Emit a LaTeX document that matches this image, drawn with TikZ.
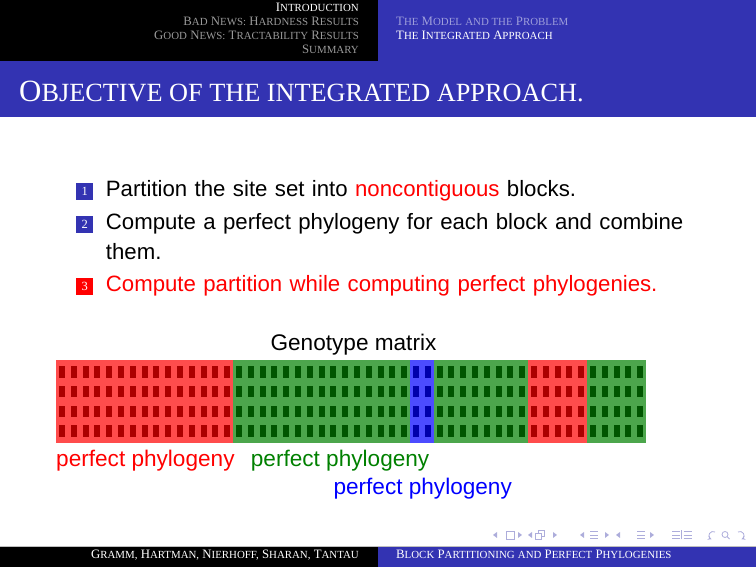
\documentclass[tikz,border=0pt]{standalone}
\usepackage{fontspec}
\setmainfont{Liberation Sans}
\newfontfamily\capfont{Liberation Serif}
\newfontfamily\smcfont[Scale=0.85]{Liberation Serif}
\usepackage{tikz}
\usetikzlibrary{arrows, positioning}
\definecolor{structblue}{rgb}{0.2,0.2,0.7}
\definecolor{pgreen}{rgb}{0,0.5,0}
\definecolor{navgray}{rgb}{0.68,0.68,0.86}
\definecolor{fadegray}{rgb}{0.6,0.6,0.6}
\definecolor{fadeblue}{rgb}{0.62,0.62,0.86}
\newcommand{\fakesc}[2]{{\capfont #1}{\smcfont #2}}
\tikzstyle{navtext} = [inner sep=0pt, font=\fontsize{12.8}{14}\selectfont\capfont]
\tikzstyle{titletext} = [inner sep=0pt, anchor=base west, text=white, font=\fontsize{30.9}{34}\selectfont\capfont]
\tikzstyle{itemtext} = [inner sep=0pt, text width=600pt, text height=16pt, text depth=5pt, align=left, font=\fontsize{22.2}{27}\selectfont]
\tikzstyle{numbox} = [inner sep=0pt, minimum size=16.5pt, text=white, font=\fontsize{12.5}{12}\selectfont\capfont]
\tikzstyle{plabel} = [inner sep=0pt, font=\fontsize{22.6}{27}\selectfont]
\tikzstyle{navsym} = [navgray, line width=0.8pt]

\begin{document}
\begin{tikzpicture}[x=1pt, y=1pt, node distance=33pt]
    \useasboundingbox (0,0) rectangle (756,567);
    \fill[structblue] (0,449.7) rectangle (756,567);
    \fill[black] (0,506) rectangle (378,567);
    \fill[black] (0,0) rectangle (378,20.5);
    \fill[structblue] (378,0) rectangle (756,20.5);
    \draw[black!25, line width=0.8pt] (0,21) -- (756,21);

    \node (sec1) [navtext, anchor=base east, text=white] at (359,555.5) {\fakesc{I}{NTRODUCTION}};
    \node (sec2) [navtext, anchor=base east, text=fadegray] at (359,541.6) {\fakesc{B}{AD} \fakesc{N}{EWS:} \fakesc{H}{ARDNESS} \fakesc{R}{ESULTS}};
    \node (sec3) [navtext, anchor=base east, text=fadegray] at (359,527.7) {\fakesc{G}{OOD} \fakesc{N}{EWS:} \fakesc{T}{RACTABILITY} \fakesc{R}{ESULTS}};
    \node (sec4) [navtext, anchor=base east, text=fadegray] at (359,513.8) {\fakesc{S}{UMMARY}};
    \node (sub1) [navtext, anchor=base west, text=fadeblue] at (396,541.6) {\fakesc{T}{HE} \fakesc{M}{ODEL} \fakesc{}{AND THE} \fakesc{P}{ROBLEM}};
    \node (sub2) [navtext, anchor=base west, text=white] at (396,527.7) {\fakesc{T}{HE} \fakesc{I}{NTEGRATED} \fakesc{A}{PPROACH}};
    \node (ftitle) [titletext] at (19,465) {\fakesc{O}{BJECTIVE OF THE INTEGRATED APPROACH.}};

    \node (item1) [itemtext, anchor=base west] at (105.7,370) {Partition the site set into \textcolor{red}{noncontiguous} blocks.};
    \node (item2) [itemtext, below of=item1] {Compute a perfect phylogeny for each block and combine};
    \node (item2b) [itemtext, below of=item2, yshift=3.5pt] {them.};
    \node (item3) [itemtext, below of=item2b, yshift=0.5pt, text=red] {Compute partition while computing perfect phylogenies.};
    \node (num1) [numbox, fill=structblue] at ([xshift=-21pt, yshift=5.7pt]item1.base west) {1};
    \node (num2) [numbox, fill=structblue] at ([xshift=-21pt, yshift=5.7pt]item2.base west) {2};
    \node (num3) [numbox, fill=red] at ([xshift=-21pt, yshift=5.7pt]item3.base west) {3};

    \node (mtitle) [plabel, anchor=base] at (353.5,216) {Genotype matrix};
    \foreach \first/\last/\blockcol in {0/14/red, 15/29/pgreen, 30/31/blue, 32/39/pgreen, 40/44/red, 45/49/pgreen} {
        \fill[\blockcol!70] (56+11.8*\first,124.3) rectangle (67.8+11.8*\last,207);
        \foreach \col in {\first,...,\last}
            \foreach \row in {0,...,3}
                \fill[\blockcol!67!black] (59+11.8*\col,189.3-19.8*\row) rectangle ++(6,11.7);
    }
    \node (redlabel) [plabel, anchor=base west, text=red] at (56,100) {perfect phylogeny};
    \node (greenlabel) [plabel, anchor=base west, text=pgreen] at (250.7,100) {perfect phylogeny};
    \node (bluelabel) [plabel, anchor=base west, text=blue] at (333.3,72) {perfect phylogeny};

    \node (author) [navtext, anchor=base east, text=white] at (359,8) {\fakesc{G}{RAMM,} \fakesc{H}{ARTMAN,} \fakesc{N}{IERHOFF,} \fakesc{S}{HARAN,} \fakesc{T}{ANTAU}};
    \node (talk) [navtext, anchor=base west, text=white] at (396,8) {\fakesc{B}{LOCK} \fakesc{P}{ARTITIONING} \fakesc{}{AND} \fakesc{P}{ERFECT} \fakesc{P}{HYLOGENIES}};

    \foreach \x in {495, 530, 582, 618}
        \fill[navgray] (\x+2,35) -- (\x-2,32) -- (\x+2,29) -- cycle;
    \foreach \x in {520, 555, 607, 652}
        \fill[navgray] (\x-2,35) -- (\x+2,32) -- (\x-2,29) -- cycle;
    \draw[navsym] (506,28) rectangle (514,36);
    \draw[navsym] (535,27.5) rectangle (541.5,34);
    \draw[navsym] (538,34) -- (538,37) -- (544.5,37) -- (544.5,30.5) -- (541.5,30.5);
    \foreach \x in {590, 637, 672, 683.5}
        \foreach \y in {28.5, 32, 35.5}
            \draw[navsym, line width=0.7pt] (\x,\y) -- (\x+8,\y);
    \draw[navsym, line width=0.7pt] (681.5,27.5) -- (681.5,37);
    \draw[navsym, ->, >=stealth] (715,35) arc (60:250:4);
    \draw[navsym] (725,32.5) circle (3) (727.2,30.3) -- (729.6,27.9);
    \draw[navsym, ->, >=stealth] (738,35) arc (120:-70:4);
\end{tikzpicture}
\end{document}
